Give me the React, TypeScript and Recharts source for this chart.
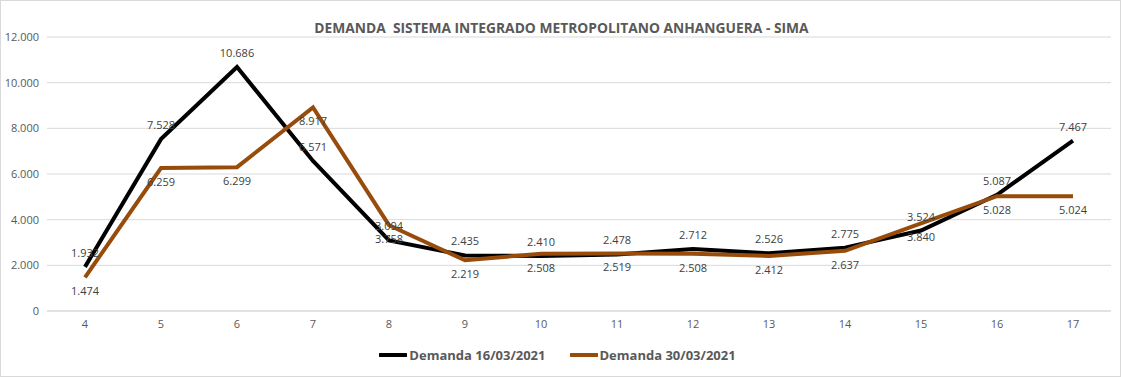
import React from 'react';
import { LineChart, Line, XAxis, YAxis, CartesianGrid, LabelList, Legend } from 'recharts';

const hours = ['4', '5', '6', '7', '8', '9', '10', '11', '12', '13', '14', '15', '16', '17'];
const demanda1603 = [1932, 7528, 10686, 6571, 3094, 2435, 2410, 2478, 2712, 2526, 2775, 3524, 5087, 7467];
const demanda3003 = [1474, 6259, 6299, 8917, 3758, 2219, 2508, 2519, 2508, 2412, 2637, 3840, 5028, 5024];
const yTicks = [0, 2000, 4000, 6000, 8000, 10000, 12000];
const seriesNames = ['Demanda 16/03/2021', 'Demanda 30/03/2021'];
const title = 'DEMANDA  SISTEMA INTEGRADO METROPOLITANO ANHANGUERA - SIMA';

const BLACK = '#000000';
const BROWN = '#984C0C';
const FONT = '"Open Sans", "Noto Sans", sans-serif';

const data = hours.map((h, i) => ({ hour: h, a: demanda1603[i], b: demanda3003[i] }));

const fmt = (v: number) => String(v).replace(/\B(?=(\d{3})+(?!\d))/g, '.');

const LegendContent = () => (
  <div style={{ display: 'flex', justifyContent: 'center', alignItems: 'center', fontFamily: FONT, fontSize: 13, fontWeight: 700, color: '#595959', height: 24, paddingLeft: 4 }}>
    {[BLACK, BROWN].map((c, i) => (
      <div key={i} style={{ display: 'flex', alignItems: 'center', marginLeft: i ? 24 : 0 }}>
        <svg width={28} height={6}><line x1={1} y1={3} x2={27} y2={3} stroke={c} strokeWidth={4} strokeLinecap="round" /></svg>
        <span style={{ marginLeft: 2 }}>{seriesNames[i]}</span>
      </div>
    ))}
  </div>
);

export default function App() {
  return (
    <div style={{ position: 'absolute', left: 0, top: 0, width: 1121, height: 377, boxSizing: 'border-box', border: '1px solid #d9d9d9', background: '#fff' }}>
      <div style={{ position: 'absolute', left: 0, top: 17, width: 1121, textAlign: 'center', fontFamily: FONT, fontSize: 13.8, fontWeight: 700, color: '#595959', whiteSpace: 'pre' }}>
        {title}
      </div>
      <div style={{ position: 'absolute', left: -1, top: -1 }}>
        <LineChart width={1121} height={377} data={data} margin={{ top: 37, right: 10, left: 0, bottom: 8 }}>
          <CartesianGrid vertical={false} stroke="#d9d9d9" />
          <XAxis dataKey="hour" padding={{ left: 38, right: 38 }} axisLine={{ stroke: '#d9d9d9' }} tickLine={false} height={32} tick={{ fill: '#595959', fontSize: 11, fontFamily: FONT }} tickMargin={3} />
          <YAxis domain={[0, 12000]} ticks={yTicks} width={47} axisLine={false} tickLine={false} tickFormatter={fmt} tick={{ fill: '#595959', fontSize: 11, fontFamily: FONT }} tickMargin={2} />
          <Legend verticalAlign="bottom" height={26} content={<LegendContent />} />
          <Line type="linear" dataKey="a" name={seriesNames[0]} stroke={BLACK} strokeWidth={4} dot={false} isAnimationActive={false}>
            <LabelList dataKey="a" position="top" offset={10} formatter={(v: any) => fmt(v)} style={{ fill: '#404040', fontSize: 11, fontFamily: FONT }} />
          </Line>
          <Line type="linear" dataKey="b" name={seriesNames[1]} stroke={BROWN} strokeWidth={4} dot={false} isAnimationActive={false}>
            <LabelList dataKey="b" position="bottom" offset={10} formatter={(v: any) => fmt(v)} style={{ fill: '#404040', fontSize: 11, fontFamily: FONT }} />
          </Line>
        </LineChart>
      </div>
    </div>
  );
}
